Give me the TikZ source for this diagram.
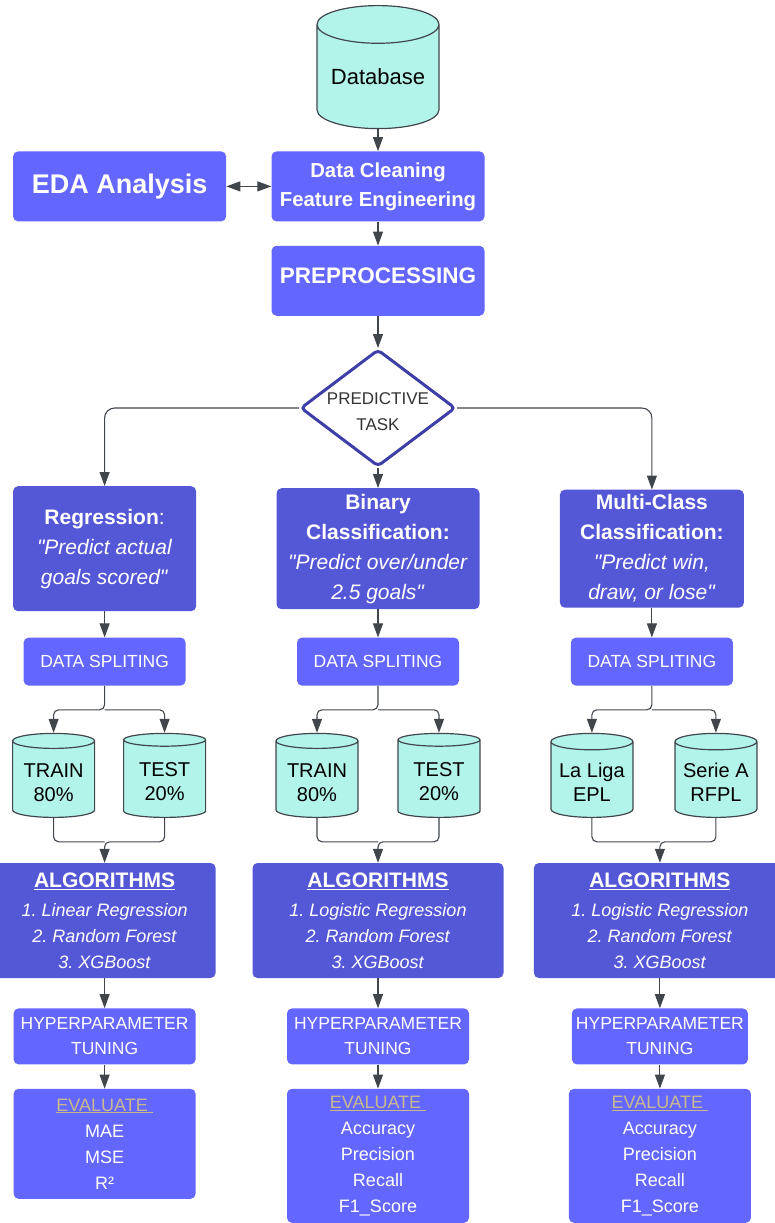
\documentclass[tikz,border=0pt]{standalone}
\usepackage{fontspec}
\setmainfont{Liberation Sans}
\usetikzlibrary{positioning,arrows.meta,shapes.geometric}

\definecolor{boxlight}{HTML}{6366FF}
\definecolor{boxdark}{HTML}{5558D6}
\definecolor{dbfill}{HTML}{B3F4EA}
\definecolor{edge}{HTML}{41464D}
\definecolor{taskblue}{HTML}{3E3FA6}
\definecolor{evaltan}{HTML}{C8BA8C}

\newcommand{\fsz}[2]{\fontsize{#1pt}{#2pt}\selectfont}
\newcommand{\qq}{\textquotedbl}
\newcommand{\twolines}[2]{\begin{tabular}{@{}c@{}}\rule{0pt}{27pt}#1\\#2\end{tabular}}

\begin{document}
\frenchspacing
\begin{tikzpicture}[
    lbox/.style = {fill=boxlight, text=white, rounded corners=5pt, align=center, inner sep=0pt},
    dbox/.style = {fill=boxdark, text=white, rounded corners=5pt, align=center, inner sep=0pt},
    store/.style = {cylinder, shape border rotate=90, aspect=0.25, draw=edge, line width=1.2pt, fill=dbfill, inner sep=0pt, minimum width=82pt, minimum height=84pt, font=\fsz{20}{24}},
    choice/.style = {diamond, draw=taskblue, line width=3pt, fill=white, rounded corners=4pt, aspect=1.32, inner sep=-6pt, minimum width=155pt, minimum height=117pt, align=center, text=black!80, font=\fsz{17}{26}},
    goal/.style = {dbox, minimum height=121pt, font=\fsz{21}{30}},
    split/.style = {lbox, minimum width=162pt, minimum height=48pt, font=\fsz{17.5}{25}},
    algo/.style = {dbox, minimum height=115pt, font=\fsz{18}{26}},
    tune/.style = {lbox, minimum width=182pt, minimum height=56pt, font=\fsz{17.5}{25}},
    score/.style = {lbox, minimum width=182pt, font=\fsz{18}{26}},
    link/.style = {draw=edge, line width=1.1pt},
    > = {Triangle[length=14pt, width=10pt]}
]
\useasboundingbox (0,0) rectangle (775pt,-1223pt);
\clip (0,0) rectangle (775pt,-1223pt);

% top column
\node (db) [store, minimum width=122pt, minimum height=123pt, aspect=0.4, font=\fsz{22}{26}, anchor=north] at (378pt,-5pt) {Database};
\node (clean) [lbox, below=22pt of db, minimum width=213pt, minimum height=70pt, font=\fsz{20.3}{29}\bfseries] {Data Cleaning\\Feature Engineering};
\node (eda) [lbox, left=45pt of clean, minimum width=213pt, minimum height=70pt, font=\fsz{27}{30}\bfseries] {EDA Analysis};
\node (prep) [lbox, below=24pt of clean, minimum width=213pt, minimum height=70pt, text height=16pt, text depth=10pt, font=\fsz{22.5}{26}\bfseries] {PREPROCESSING};
\node (ptask) [choice, below=32pt of prep] {\rule{0pt}{20pt}PREDICTIVE\\TASK};

% the three tasks
\node (bin) [goal, below=20pt of ptask, minimum width=203pt] {\textbf{Binary}\\\textbf{Classification:}\\\textit{\qq Predict over/under}\\\textit{2.5 goals\qq}};
\node (reg) [goal, left=80pt of bin, minimum width=183pt, minimum height=125pt] {\textbf{Regression}:\\\textit{\qq Predict actual}\\\textit{goals scored\qq}};
\node (multi) [goal, right=80pt of bin, minimum width=184pt, minimum height=118pt] {\textbf{Multi-Class}\\\textbf{Classification:}\\\textit{\qq Predict win,}\\\textit{draw, or lose\qq}};

\node (splitA) [split, below=26pt of reg] {DATA SPLITING};
\node (splitB) [split, below=28pt of bin] {DATA SPLITING};
\node (splitC) [split, below=29.5pt of multi] {DATA SPLITING};

% data stores
\node (trainA) [store, below=47pt of splitA, xshift=-51pt] {\twolines{TRAIN}{80\%}};
\node (testA) [store, below=47pt of splitA, xshift=60pt] {\twolines{TEST}{20\%}};
\node (trainB) [store, below=47pt of splitB, xshift=-61pt] {\twolines{TRAIN}{80\%}};
\node (testB) [store, below=47pt of splitB, xshift=61pt] {\twolines{TEST}{20\%}};
\node (ligaC) [store, below=47pt of splitC, xshift=-60pt] {\twolines{La Liga}{EPL}};
\node (serieC) [store, below=47pt of splitC, xshift=64pt] {\twolines{Serie A}{RFPL}};

% algorithms
\node (algA) [algo, below=177pt of splitA, minimum width=222pt] {{\fsz{21}{29}\bfseries\underline{ALGORITHMS}}\\[3pt]\textit{1. Linear Regression}\\\textit{2. Random Forest}\\\textit{3. XGBoost}};
\node (algB) [algo, below=177pt of splitB, minimum width=251pt] {{\fsz{21}{29}\bfseries\underline{ALGORITHMS}}\\[3pt]\textit{1. Logistic Regression}\\\textit{2. Random Forest}\\\textit{3. XGBoost}};
\node (algC) [algo, below=177pt of splitC, xshift=8pt, minimum width=252pt] {{\fsz{21}{29}\bfseries\underline{ALGORITHMS}}\\[3pt]\textit{1. Logistic Regression}\\\textit{2. Random Forest}\\\textit{3. XGBoost}};

\node (tuneA) [tune, below=30pt of algA] {HYPERPARAMETER\\TUNING};
\node (tuneB) [tune, below=30pt of algB] {HYPERPARAMETER\\TUNING};
\node (tuneC) [tune, below=30pt of algC, minimum width=176pt] {HYPERPARAMETER\\TUNING};

\node (evalA) [score, below=24pt of tuneA, minimum height=110pt] {\textcolor{evaltan}{\underline{EVALUATE\ }}\\MAE\\MSE\\R²};
\node (evalB) [score, below=24pt of tuneB, minimum height=134pt] {\textcolor{evaltan}{\underline{EVALUATE\ }}\\Accuracy\\Precision\\Recall\\F1\_Score};
\node (evalC) [score, below=24pt of tuneC, minimum height=134pt] {\textcolor{evaltan}{\underline{EVALUATE\ }}\\Accuracy\\Precision\\Recall\\F1\_Score};

% branch and merge points
\node (jA) [coordinate, below=24pt of splitA] {};
\node (jB) [coordinate, below=24pt of splitB] {};
\node (jC) [coordinate, below=24pt of splitC] {};
\node (mA) [coordinate, above=21pt of algA] {};
\node (mB) [coordinate, above=21pt of algB] {};
\node (mC) [coordinate, above=21pt of algC] {};

\draw[link, ->] (db) -- (clean);
\draw[link, <->] (eda) -- (clean);
\draw[link, ->] (clean) -- (prep);
\draw[link, ->] (prep) -- (ptask);
\draw[link, ->, rounded corners=10pt] (ptask.west) -| (reg);
\draw[link, ->] (ptask) -- (bin);
\draw[link, ->, rounded corners=10pt] (ptask.east) -| (multi);

\draw[link, ->] (reg) -- (splitA);
\draw[link, ->] (bin) -- (splitB);
\draw[link, ->] (multi) -- (splitC);

\draw[link, ->, rounded corners=5pt] (splitA) -- (jA) -| (trainA);
\draw[link, ->, rounded corners=5pt] (jA) -| (testA);
\draw[link, ->, rounded corners=5pt] (splitB) -- (jB) -| (trainB);
\draw[link, ->, rounded corners=5pt] (jB) -| (testB);
\draw[link, ->, rounded corners=5pt] (splitC) -- (jC) -| (ligaC);
\draw[link, ->, rounded corners=5pt] (jC) -| (serieC);

\draw[link, rounded corners=5pt] (trainA) |- (mA);
\draw[link, ->, rounded corners=5pt] (testA) |- (mA) -- (algA);
\draw[link, rounded corners=5pt] (trainB) |- (mB);
\draw[link, ->, rounded corners=5pt] (testB) |- (mB) -- (algB);
\draw[link, rounded corners=5pt] (ligaC) |- (mC);
\draw[link, ->, rounded corners=5pt] (serieC) |- (mC) -- (algC);

\draw[link, ->] (algA) -- (tuneA);
\draw[link, ->] (algB) -- (tuneB);
\draw[link, ->] (algC) -- (tuneC);
\draw[link, ->] (tuneA) -- (evalA);
\draw[link, ->] (tuneB) -- (evalB);
\draw[link, ->] (tuneC) -- (evalC);
\end{tikzpicture}
\end{document}
